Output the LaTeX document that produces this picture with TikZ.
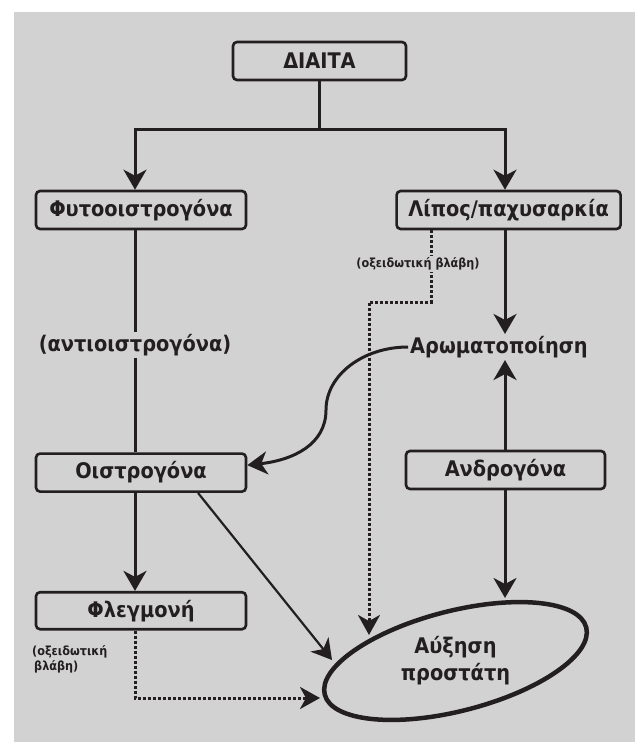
\documentclass[tikz,border=0pt]{standalone}
\usepackage{fontspec}
\setmainfont{DejaVu Sans Condensed}[BoldFont={DejaVu Sans Condensed Bold}]
\usetikzlibrary{positioning,arrows.meta,calc,shapes.geometric}
\definecolor{panelgray}{RGB}{210,210,210}
\definecolor{inkdark}{RGB}{35,31,32}
\tikzset{
  box/.style ={draw=inkdark, line width=2.6pt, rounded corners=4pt, text=inkdark,
               font=\bfseries\fontsize{21.5}{24}\selectfont, minimum height=38pt, inner sep=2pt},
  lbl/.style ={text=inkdark, font=\bfseries\fontsize{21.5}{27}\selectfont, inner sep=2pt},
  note/.style={text=inkdark, font=\bfseries\fontsize{12.5}{15}\selectfont, inner sep=2pt},
  ln/.style  ={draw=inkdark, line width=3pt},
  ar/.style  ={ln, -{Stealth[length=20pt,width=23pt,inset=6pt]}},
  dar/.style ={draw=inkdark, line width=3pt, dash pattern=on 3pt off 2pt,
               -{Stealth[length=20pt,width=22pt,inset=6pt]}},
}

\begin{document}
\begin{tikzpicture}[x=1pt,y=1pt,node distance=148pt]
\useasboundingbox (0,0) rectangle (635,-742);
\fill[panelgray] (14,-12) rectangle (635,-742);

\node[box,minimum width=173pt] (diet) at (319.5,-61) {ΔΙΑΙΤΑ};
\node[box,minimum width=210pt] (phyto) at (141,-210) {Φυτοοιστρογόνα};
\node[box,minimum width=224pt,right=of phyto] (fat) {Λίπος/παχυσαρκία};
\node[lbl] (anti) at (135,-345) {(αντιοιστρογόνα)};
\node[lbl] (arom) at (499,-347) {Αρωματοποίηση};
\node[box,minimum width=210pt,below=222pt of phyto] (estr) {Οιστρογόνα};
\node[box,minimum width=199pt] (andr) at (505.5,-470) {Ανδρογόνα};
\node[box,minimum width=210pt,minimum height=37pt,below=98pt of estr] (infl) {Φλεγμονή};
\node[draw=inkdark,line width=4.5pt,ellipse,minimum width=270pt,minimum height=100pt,
      inner sep=0pt,rotate=14.4] (pros) at (455.5,-661) {};
\node[lbl,align=center] (prostxt) at (pros.center) {Αύξηση\\προστάτη};

\coordinate (jl) at (135,-129);
\coordinate (jr) at (505,-129);
\coordinate (bend) at (326,-410);
\coordinate (kinkR) at (431,-302);
\coordinate (kinkL) at (369,-302);
\coordinate (kinkF) at (135,-698);
\coordinate (pA) at ($(pros.center)+(49.5,63)$);
\coordinate (pB) at ($(pros.center)+(-86.5,26)$);
\coordinate (pC) at ($(pros.center)+(-123.5,1)$);
\coordinate (pD) at ($(pros.center)+(-135.5,-37)$);

\draw[ln] (diet.south) -- (diet.south |- jl);
\draw[ar] (diet.south |- jl) -| (phyto.north -| jl);
\draw[ar] (diet.south |- jl) -| (fat.north -| jr);
\draw[ln] (phyto.south -| jl) -- (anti);
\draw[ln] (anti) -- (estr.north -| jl);
\draw[ar] (fat.south -| jr) -- (arom.north -| jr);
\draw[ar] (andr.north -| jr) -- (arom.south -| jr);
\draw[ar] (andr.south -| jr) -- (pA);
\draw[ar] (estr.south -| jl) -- (infl.north -| jl);
\draw[ar,line width=2.2pt] ($(estr.south)+(57,0)$) -- (pC);
\draw[ar] (arom.west) .. controls +(-45,0) and +(0,35) .. (bend)
   .. controls +(0,-35) and +(45,5) .. (estr.4);

% oxidative damage paths
\draw[dar] (fat.south -| kinkR) -- (kinkR) -- (kinkL) -- (pB);
\node[note,fill=panelgray] (oxA) at (418,-264) {(οξειδωτική βλάβη)};
\draw[dar] (infl.south -| jl) -- (kinkF) -- (pD);
\node[note,align=left,anchor=west] (oxB) at (30,-659) {(οξειδωτική\\\hspace{2pt}βλάβη)};
\end{tikzpicture}
\end{document}
